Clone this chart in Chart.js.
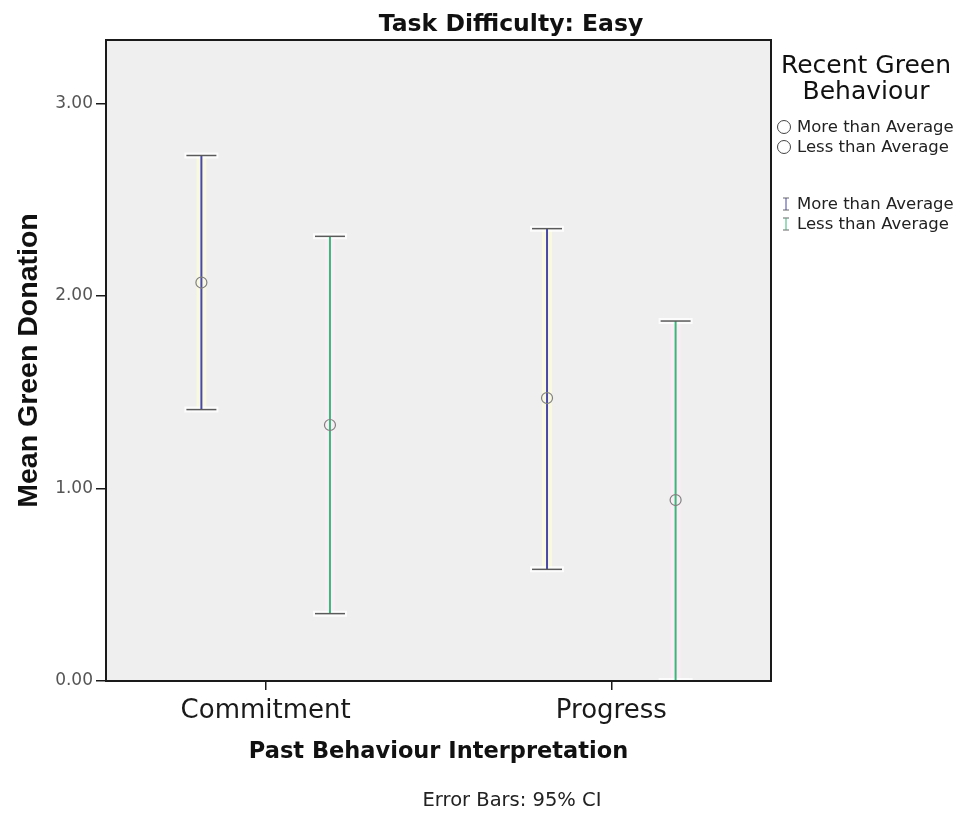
<!DOCTYPE html>
<html>
<head>
<meta charset="utf-8">
<script src="https://cdn.jsdelivr.net/npm/chart.js@4.4.1/dist/chart.umd.min.js"></script>
<style>
  html, body { margin: 0; padding: 0; background: #ffffff; }
  #wrap { width: 966px; height: 816px; position: relative; }
</style>
</head>
<body>
<div id="wrap"><canvas id="c" width="966" height="816"></canvas></div>
<script>
// Mean green donation with 95% CI, by past-behaviour interpretation and recent green behaviour
const categories = ['Commitment', 'Progress'];
const groups = ['More than Average', 'Less than Average'];

const meanMore  = [2.07, 1.47];
const lowerMore = [1.41, 0.58];
const upperMore = [2.73, 2.35];

const meanLess  = [1.33, 0.94];
const lowerLess = [0.35, 0.00];
const upperLess = [2.31, 1.87];

const yTicks = [0, 1, 2, 3];

// styling per group
const groupStyle = [
  { line: '#4848a8', halo: 'rgba(250,250,222,0.85)', shift: -0.186 },
  { line: '#38b97a', halo: 'rgba(252,236,246,0.85)', shift: 0.186 }
];
const groupData = [
  { mean: meanMore, lower: lowerMore, upper: upperMore },
  { mean: meanLess, lower: lowerLess, upper: upperLess }
];

const FONT = '"DejaVu Sans", "Liberation Sans", sans-serif';
const FONT_ARIAL = '"Liberation Sans", Arial, sans-serif';

const datasets = [];
groupData.forEach((g, gi) => {
  const st = groupStyle[gi];
  categories.forEach((cat, ci) => {
    const x = ci + 1 + st.shift;
    const seg = [{ x: x, y: g.lower[ci] }, { x: x, y: g.upper[ci] }];
    // soft halo under each interval
    datasets.push({
      type: 'line', data: seg, order: 3,
      borderColor: st.halo, borderWidth: 10, pointStyle: 'line',
      pointRadius: 17, pointBorderWidth: 6, pointBorderColor: 'rgba(255,255,255,0.8)',
      showLine: true
    });
    // interval line with caps
    datasets.push({
      type: 'line', data: seg, order: 2,
      borderColor: st.line, borderWidth: 2, showLine: true,
      pointStyle: 'line', pointRadius: 15, pointBorderColor: '#5a5a5a',
      pointBorderWidth: 1.5, pointBackgroundColor: 'rgba(0,0,0,0)'
    });
  });
  // group means
  datasets.push({
    type: 'scatter', order: 1,
    data: categories.map((c, ci) => ({ x: ci + 1 + st.shift, y: g.mean[ci] })),
    pointStyle: 'circle', pointRadius: 5.5, borderColor: '#808080',
    backgroundColor: 'rgba(0,0,0,0)', borderWidth: 1.2
  });
});

const framePlugin = {
  id: 'frame',
  beforeDraw(chart) {
    const { ctx, chartArea: a } = chart;
    ctx.save();
    ctx.fillStyle = '#ffffff';
    ctx.fillRect(0, 0, chart.width, chart.height);
    ctx.fillStyle = '#efefef';
    ctx.fillRect(a.left, a.top, a.right - a.left, a.bottom - a.top);
    ctx.restore();
  },
  afterDraw(chart) {
    const { ctx, chartArea: a } = chart;
    ctx.save();
    ctx.strokeStyle = '#1a1a1a';
    ctx.lineWidth = 2;
    ctx.strokeRect(a.left, a.top, a.right - a.left, a.bottom - a.top);

    // heading
    ctx.fillStyle = '#111';
    ctx.textAlign = 'center';
    ctx.textBaseline = 'alphabetic';
    ctx.font = 'bold 23.5px ' + FONT;
    ctx.fillText('Task Difficulty: Easy', 511, 31);

    // legend
    ctx.textBaseline = 'middle';
    ctx.font = '25px ' + FONT;
    ctx.fillText('Recent Green', 866, 66);
    ctx.fillText('Behaviour', 866, 92);

    ctx.textAlign = 'left';
    ctx.font = '16.5px ' + FONT;
    ctx.fillStyle = '#222';
    groups.forEach((name, i) => {
      const y = 127 + i * 20;
      ctx.beginPath();
      ctx.arc(784, y, 6.5, 0, Math.PI * 2);
      ctx.strokeStyle = '#444';
      ctx.lineWidth = 1;
      ctx.stroke();
      ctx.fillText(name, 797, y + 1);
    });
    groups.forEach((name, i) => {
      const y = 204 + i * 20;
      ctx.strokeStyle = '#666';
      ctx.lineWidth = 1;
      ctx.beginPath();
      ctx.moveTo(783, y - 6); ctx.lineTo(789, y - 6);
      ctx.moveTo(783, y + 6); ctx.lineTo(789, y + 6);
      ctx.stroke();
      ctx.strokeStyle = groupStyle[i].line;
      ctx.beginPath();
      ctx.moveTo(786, y - 6); ctx.lineTo(786, y + 6);
      ctx.stroke();
      ctx.fillStyle = '#222';
      ctx.fillText(name, 797, y + 1);
    });

    // footnote
    ctx.textAlign = 'center';
    ctx.font = '19.5px ' + FONT;
    ctx.fillStyle = '#222';
    ctx.fillText('Error Bars: 95% CI', 512, 801);
    ctx.restore();
  }
};

new Chart(document.getElementById('c'), {
  type: 'scatter',
  data: { datasets },
  options: {
    responsive: false,
    animation: false,
    events: [],
    devicePixelRatio: 1,
    layout: { padding: { left: 0, top: 40, right: 195, bottom: 0 } },
    plugins: { legend: { display: false }, tooltip: { enabled: false }, title: { display: false } },
    scales: {
      x: {
        type: 'linear',
        min: 0.538, max: 2.462,
        afterFit(s) { s.height = 135; },
        afterBuildTicks(s) { s.ticks = categories.map((c, i) => ({ value: i + 1 })); },
        ticks: {
          callback: (v) => categories[Math.round(v) - 1],
          font: { family: FONT, size: 26 },
          color: '#1a1a1a',
          padding: 6,
          maxRotation: 0
        },
        grid: { drawOnChartArea: false, drawTicks: true, tickLength: 9, color: '#1a1a1a', lineWidth: 1.5 },
        border: { color: '#1a1a1a', width: 2 },
        title: {
          display: true, text: 'Past Behaviour Interpretation',
          font: { family: FONT, size: 22.5, weight: 'bold' }, color: '#111',
          padding: { top: 0, bottom: 50 }
        }
      },
      y: {
        type: 'linear',
        min: 0, max: 3.33,
        afterFit(s) { s.width = 106; },
        afterBuildTicks(s) { s.ticks = yTicks.map(v => ({ value: v })); },
        ticks: {
          includeBounds: false,
          callback: (v) => Number(v).toFixed(2),
          font: { family: FONT, size: 17 },
          color: '#555',
          padding: 3
        },
        grid: { drawOnChartArea: false, drawTicks: true, tickLength: 10, color: '#1a1a1a', lineWidth: 1.5 },
        border: { color: '#1a1a1a', width: 2 },
        title: {
          display: true, text: 'Mean Green Donation',
          font: { family: FONT_ARIAL, size: 28.5, weight: 'bold' }, color: '#111',
          padding: { top: 12, bottom: 0 }
        }
      }
    }
  },
  plugins: [framePlugin]
});
</script>
</body>
</html>
